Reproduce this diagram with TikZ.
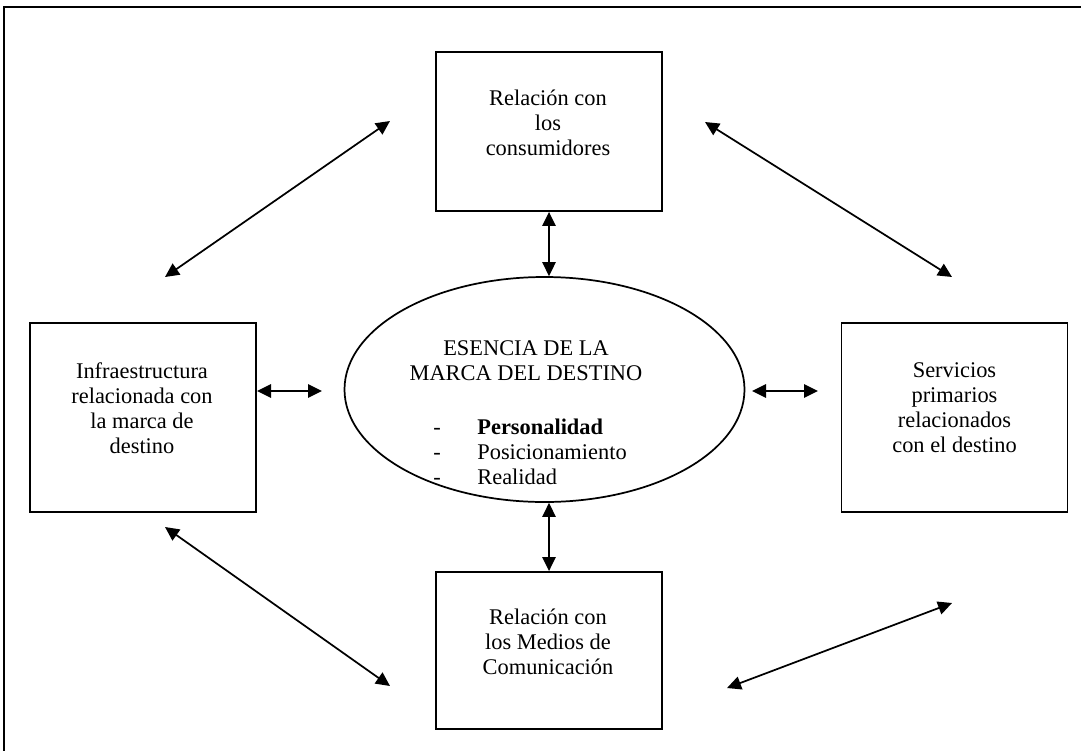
\documentclass[tikz,border=0pt]{standalone}
\usepackage{fontspec}
\setmainfont{Liberation Serif}
\usetikzlibrary{arrows.meta,shapes.geometric}

\tikzset{
  box/.style={draw, line width=1.4pt, minimum width=169.5pt, inner sep=0pt},
  txt/.style={align=center, inner sep=0pt, font=\fontsize{16.8}{18.75}\selectfont},
  arr/.style={line width=1.3pt, {Triangle[length=10.5pt,width=10pt]}-{Triangle[length=10.5pt,width=10pt]}},
}

\begin{document}
\begin{tikzpicture}[x=0.75pt,y=-0.75pt]
  \useasboundingbox (0,0) rectangle (1081,750);

  % open frame along the top and left edges
  \draw[line width=1.6pt] (4,752) -- (4,7) -- (1083,7);

  % the four surrounding boxes
  \node[box, minimum height=119.25pt] (top) at (549,131.5) {};
  \node[box, minimum height=117.75pt] (bot) at (549,650.5) {};
  \node[box, minimum height=141.75pt] (lft) at (143,417.5) {};
  \node[box, minimum height=141.75pt] (rgt) at (954.5,417.5) {};

  \node[txt] (toptext) at (548,123) {Relación con\\los\\consumidores};
  \node[txt] (bottext) at (548,642) {Relación con\\los Medios de\\Comunicación};
  \node[txt] (lfttext) at (142,408.5) {Infraestructura\\relacionada con\\la marca de\\destino};
  \node[txt] (rgttext) at (954.5,408) {Servicios\\primarios\\relacionados\\con el destino};

  % central ellipse
  \node[draw, ellipse, line width=1.3pt, minimum width=300pt, minimum height=168.75pt, inner sep=0pt] (ell) at (544.5,389.5) {};
  \node[txt] (title) at (526,361) {ESENCIA DE LA\\MARCA DEL DESTINO};
  \node[txt, anchor=west, align=left] (items) at (433,454) {%
    \renewcommand{\arraystretch}{1.0}%
    \begin{tabular}{@{}l@{\hspace{27.5pt}}l@{}}
      - & \textbf{Personalidad}\\
      - & Posicionamiento\\
      - & Realidad
    \end{tabular}};

  % free ends of the side and diagonal arrows
  \coordinate (hl1) at (257,391);
  \coordinate (hl2) at (322,391);
  \coordinate (hr1) at (752,391);
  \coordinate (hr2) at (818,391);
  \coordinate (tl1) at (165,277);
  \coordinate (tl2) at (390,121);
  \coordinate (tr1) at (705,122);
  \coordinate (tr2) at (952,277);
  \coordinate (bl1) at (165,527);
  \coordinate (bl2) at (390,686);
  \coordinate (br1) at (727,688);
  \coordinate (br2) at (952,603);

  % connectors
  \draw[arr] (top.south) -- (top.south |- ell.north);
  \draw[arr] (top.south |- ell.south) -- (bot.north);
  \draw[arr] (hl1) -- (hl2);
  \draw[arr] (hr1) -- (hr2);
  \draw[arr] (tl1) -- (tl2);
  \draw[arr] (tr1) -- (tr2);
  \draw[arr] (bl1) -- (bl2);
  \draw[arr] (br1) -- (br2);
\end{tikzpicture}
\end{document}
